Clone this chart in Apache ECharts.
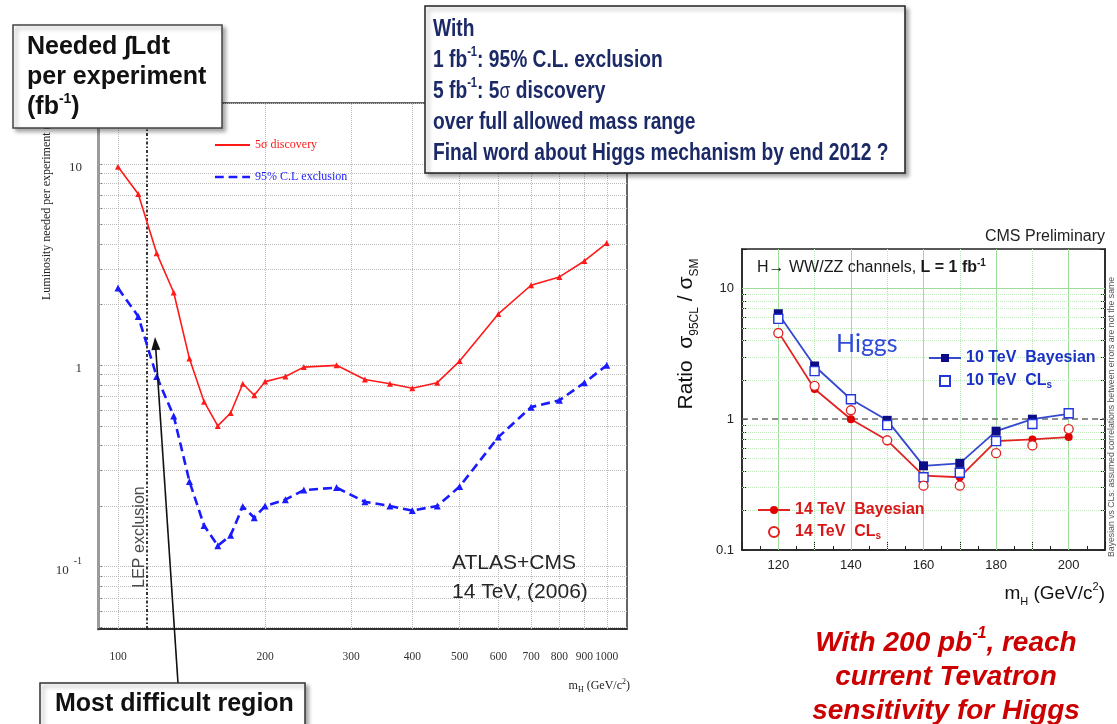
<!DOCTYPE html>
<html>
<head>
<meta charset="utf-8">
<title>Higgs search luminosity</title>
<script src="https://cdn.jsdelivr.net/npm/echarts@6/dist/echarts.min.js"></script>
<style>
  html, body { margin: 0; padding: 0; background: #fff; }
  #main { width: 1117px; height: 724px; }
</style>
</head>
<body>
<div id="main"></div>
<script>
// ---- ATLAS+CMS, 14 TeV (2006): luminosity needed per experiment vs m_H ----
const massLeft = [100, 110, 120, 130, 140, 150, 160, 170, 180, 190, 200, 220, 240, 280, 320, 360, 400, 450, 500, 600, 700, 800, 900, 1000];
const discovery5sigma = [9.7, 7.1, 3.6, 2.3, 1.08, 0.66, 0.50, 0.58, 0.81, 0.71, 0.83, 0.88, 0.98, 1.0, 0.85, 0.81, 0.77, 0.82, 1.05, 1.8, 2.5, 2.75, 3.3, 4.05];
const exclusion95 = [2.42, 1.75, 0.88, 0.56, 0.265, 0.16, 0.127, 0.143, 0.199, 0.175, 0.20, 0.215, 0.24, 0.247, 0.21, 0.20, 0.19, 0.20, 0.25, 0.44, 0.62, 0.67, 0.82, 1.0];
const leftXTicks = [100, 200, 300, 400, 500, 600, 700, 800, 900, 1000];
const leftYLabels = [0.1, 1, 10];
const lepLimit = 114.4;

// ---- CMS preliminary, H -> WW/ZZ, L = 1 fb-1: expected sigma_95CL / sigma_SM ----
const massRight = [120, 130, 140, 150, 160, 170, 180, 190, 200];
const tev10Bayesian = [6.4, 2.55, 1.42, 0.98, 0.44, 0.46, 0.81, 1.0, 1.1];
const tev10CLs = [5.85, 2.33, 1.42, 0.90, 0.36, 0.39, 0.68, 0.92, 1.11];
const tev14Bayesian = [4.65, 1.70, 1.0, 0.69, 0.37, 0.36, 0.68, 0.70, 0.73];
const tev14CLs = [4.55, 1.80, 1.17, 0.69, 0.31, 0.31, 0.55, 0.63, 0.84];
const rightXLabels = [120, 140, 160, 180, 200];
const rightXMajorGrid = [120, 140, 160, 180, 200];
const rightXMinorGrid = [130, 150, 170, 190];
const rightYLabels = [0.1, 1, 10];

const SANS = "'Liberation Sans', Arial, Helvetica, sans-serif";
const SERIF = "'Liberation Serif', 'Times New Roman', serif";
const NAVY = '#1b2a66';
const RED_L = '#ff1a1a', BLUE_L = '#1a1aff';
const RED_R = '#e02424';

// 1..9 x 10^k steps inside [lo, hi] (log grid positions)
function logSteps(lo, hi) {
  const out = [];
  for (let e = -3; e <= 3; e++) {
    for (let k = 1; k <= 9; k++) {
      const v = +(k * Math.pow(10, e)).toPrecision(3);
      if (v >= lo && v <= hi) out.push(v);
    }
  }
  return out;
}
const zip = (xs, ys) => xs.map((x, i) => [x, ys[i]]);
const near = (a, b) => Math.abs(a - b) < 1e-6 * Math.max(1, Math.abs(b));

const leftYMin = 0.049, leftYMax = 20.1;
const rightYMin = 0.1, rightYMax = 20;

const leftHGrid = logSteps(leftYMin, leftYMax);
const rightHGrid = logSteps(rightYMin, rightYMax).filter(v => !near(v, 0.1) && !near(v, 1) && !near(v, 10) && !near(v, 20));

const chart = echarts.init(document.getElementById('main'), null, { renderer: 'canvas' });

const noMark = { silent: true, symbol: ['none', 'none'], label: { show: false }, emphasis: { disabled: true }, animation: false };

// arrow pointing to the low-mass region
const arrowFrom = [178, 683], arrowTip = [155, 337];
const arrowHead = (function () {
  const dx = arrowTip[0] - arrowFrom[0], dy = arrowTip[1] - arrowFrom[1];
  const len = Math.hypot(dx, dy), ux = dx / len, uy = dy / len;
  const bx = arrowTip[0] - 13 * ux, by = arrowTip[1] - 13 * uy;
  const px = -uy * 4.5, py = ux * 4.5;
  return { base: [bx, by], pts: [arrowTip, [bx + px, by + py], [bx - px, by - py]] };
})();

const boxShadow = { shadowBlur: 4, shadowOffsetX: 3, shadowOffsetY: 3, shadowColor: 'rgba(0,0,0,0.35)' };

const option = {
  animation: false,
  textStyle: { fontFamily: SANS },
  grid: [
    { left: 98, top: 103, width: 529, height: 526, show: true, borderColor: '#333', borderWidth: 1.5, backgroundColor: 'transparent' },
    { left: 742, top: 249, width: 363, height: 301, show: true, borderColor: '#222', borderWidth: 1.5, backgroundColor: 'transparent' }
  ],
  xAxis: [
    {
      type: 'log', gridIndex: 0, logBase: 10, min: 91, max: 1100,
      axisLine: { lineStyle: { color: '#222', width: 1.5 } },
      axisTick: { show: false },
      splitLine: { show: false },
      axisLabel: {
        customValues: leftXTicks, hideOverlap: false, showMinLabel: true, showMaxLabel: true,
        margin: 22, fontFamily: SERIF, fontSize: 11.5, color: '#333',
        formatter: v => String(Math.round(v))
      }
    },
    {
      type: 'value', gridIndex: 1, min: 110, max: 210, interval: 10,
      axisLine: { lineStyle: { color: '#222', width: 1.5 } },
      axisTick: { inside: true, length: 8, lineStyle: { color: '#222' } },
      minorTick: { show: true, splitNumber: 2, length: 4, lineStyle: { color: '#222' } },
      splitLine: { show: false },
      axisLabel: { margin: 9, fontFamily: SANS, fontSize: 13, color: '#222', formatter: v => (rightXLabels.indexOf(v) >= 0 ? String(v) : '') }
    }
  ],
  yAxis: [
    {
      type: 'log', gridIndex: 0, logBase: 10, min: leftYMin, max: leftYMax,
      axisLine: { lineStyle: { color: '#9a9a9a', width: 3 } },
      axisTick: { show: true, inside: true, customValues: leftHGrid, length: 4, lineStyle: { color: '#777' } },
      splitLine: { show: false },
      axisLabel: {
        customValues: leftYLabels, margin: 16,
        formatter: v => (near(v, 0.1) ? '{b|10}{s|-1}' : '{b|' + Math.round(v) + '}'),
        rich: {
          b: { fontFamily: SERIF, fontSize: 13, color: '#333', lineHeight: 20, verticalAlign: 'bottom' },
          s: { fontFamily: SERIF, fontSize: 10, color: '#333', lineHeight: 10, verticalAlign: 'top', padding: [0, 0, 0, 5] }
        }
      }
    },
    {
      type: 'log', gridIndex: 1, logBase: 10, min: rightYMin, max: rightYMax,
      axisLine: { lineStyle: { color: '#222', width: 1.5 } },
      axisTick: { show: true, inside: true, customValues: logSteps(rightYMin, rightYMax), length: 5, lineStyle: { color: '#222' } },
      splitLine: { show: false },
      axisLabel: { customValues: rightYLabels, margin: 8, fontFamily: SANS, fontSize: 13, color: '#222', formatter: v => (near(v, 0.1) ? '0.1' : String(Math.round(v))) }
    },
    {
      type: 'log', gridIndex: 1, logBase: 10, min: rightYMin, max: rightYMax, position: 'right',
      axisLine: { lineStyle: { color: '#222', width: 1.5 } },
      axisTick: { show: true, inside: true, customValues: logSteps(rightYMin, rightYMax), length: 5, lineStyle: { color: '#222' } },
      splitLine: { show: false },
      axisLabel: { show: false }
    }
  ],
  legend: [
    {
      left: 215, top: 138, padding: 0, orient: 'vertical', itemGap: 18, itemWidth: 35, itemHeight: 2.5,
      selectedMode: false,
      itemStyle: { borderWidth: 0 },
      textStyle: { fontFamily: SERIF, fontSize: 12, lineHeight: 14 },
      data: [
        { name: '5σ discovery', icon: 'path://M0,0H36V2H0Z', textStyle: { color: RED_L } },
        { name: '95% C.L exclusion', icon: 'path://M0,0h9v2.5h-9z M14,0h9v2.5h-9z M28,0h8v2.5h-8z', textStyle: { color: BLUE_L } }
      ]
    },
    {
      left: 928, top: 349, padding: 0, orient: 'vertical', itemGap: 5, itemWidth: 32, itemHeight: 10,
      selectedMode: false,
      textStyle: {
        fontFamily: SANS, fontWeight: 'bold', fontSize: 16, lineHeight: 18, color: '#1a30c8',
        rich: { s: { fontFamily: SANS, fontWeight: 'bold', fontSize: 10, lineHeight: 10, color: '#1a30c8', verticalAlign: 'bottom' } }
      },
      formatter: n => n.replace(/CLs$/, 'CL{s|s}'),
      data: ['10 TeV  Bayesian', { name: '10 TeV  CLs', icon: 'path://M0,0h10v10h-10z' }]
    },
    {
      left: 757, top: 501, padding: 0, orient: 'vertical', itemGap: 4, itemWidth: 32, itemHeight: 10,
      selectedMode: false,
      textStyle: {
        fontFamily: SANS, fontWeight: 'bold', fontSize: 16, lineHeight: 18, color: '#d81818',
        rich: { s: { fontFamily: SANS, fontWeight: 'bold', fontSize: 10, lineHeight: 10, color: '#d81818', verticalAlign: 'bottom' } }
      },
      formatter: n => n.replace(/CLs$/, 'CL{s|s}'),
      data: ['14 TeV  Bayesian', '14 TeV  CLs']
    }
  ],
  series: [
    // left panel grid lines
    {
      name: 'leftGrid', type: 'line', xAxisIndex: 0, yAxisIndex: 0, data: [], silent: true,
      markLine: Object.assign({}, noMark, {
        z: 1,
        lineStyle: { color: '#bcbcbc', type: 'dotted', width: 1 },
        data: leftXTicks.map(v => ({ xAxis: v })).concat(leftHGrid.map(v => ({ yAxis: v })))
      })
    },
    // LEP exclusion boundary
    {
      name: 'LEP', type: 'line', xAxisIndex: 0, yAxisIndex: 0, data: [], silent: true,
      markLine: Object.assign({}, noMark, {
        z: 3,
        lineStyle: { color: '#222', type: [3, 2, 1.5, 2], width: 1.8 },
        data: [{ xAxis: lepLimit }]
      })
    },
    {
      name: '5σ discovery', type: 'line', xAxisIndex: 0, yAxisIndex: 0, z: 4,
      data: zip(massLeft, discovery5sigma),
      symbol: 'triangle', symbolSize: 6,
      lineStyle: { color: RED_L, width: 1.6 },
      itemStyle: { color: RED_L }
    },
    {
      name: '95% C.L exclusion', type: 'line', xAxisIndex: 0, yAxisIndex: 0, z: 4,
      data: zip(massLeft, exclusion95),
      symbol: 'triangle', symbolSize: 7,
      lineStyle: { color: BLUE_L, width: 2.6, type: [9, 5] },
      itemStyle: { color: BLUE_L }
    },
    // right panel grid lines and the ratio = 1 reference
    {
      name: 'rightGrid', type: 'line', xAxisIndex: 1, yAxisIndex: 1, data: [], silent: true,
      markLine: Object.assign({}, noMark, {
        z: 1,
        data: rightXMajorGrid.map(v => ({ xAxis: v, lineStyle: { color: '#9edc9a', type: 'solid', width: 1 } }))
          .concat(rightXMinorGrid.map(v => ({ xAxis: v, lineStyle: { color: '#b9e6b5', type: 'dotted', width: 1 } })))
          .concat(rightHGrid.map(v => ({ yAxis: v, lineStyle: { color: '#c2eabe', type: 'dotted', width: 1 } })))
          .concat([{ yAxis: 10, lineStyle: { color: '#9edc9a', type: 'solid', width: 1 } }])
      })
    },
    {
      name: 'unity', type: 'line', xAxisIndex: 1, yAxisIndex: 1, data: [], silent: true,
      markLine: Object.assign({}, noMark, {
        z: 2,
        lineStyle: { color: '#6a6a6a', type: [6, 4], width: 1.5 },
        data: [{ yAxis: 1 }]
      })
    },
    {
      name: '10 TeV  Bayesian', type: 'line', xAxisIndex: 1, yAxisIndex: 1, z: 4,
      data: zip(massRight, tev10Bayesian),
      symbol: 'rect', symbolSize: 9,
      lineStyle: { color: '#3548d0', width: 1.8 },
      itemStyle: { color: '#0c0c86' }
    },
    {
      name: '10 TeV  CLs', type: 'scatter', xAxisIndex: 1, yAxisIndex: 1, z: 5,
      data: zip(massRight, tev10CLs),
      symbol: 'rect', symbolSize: 9,
      itemStyle: { color: '#ffffff', borderColor: '#2236e0', borderWidth: 1.4, opacity: 1 }
    },
    {
      name: '14 TeV  Bayesian', type: 'line', xAxisIndex: 1, yAxisIndex: 1, z: 4,
      data: zip(massRight, tev14Bayesian),
      symbol: 'circle', symbolSize: 8,
      lineStyle: { color: RED_R, width: 1.8 },
      itemStyle: { color: '#e00000' }
    },
    {
      name: '14 TeV  CLs', type: 'scatter', xAxisIndex: 1, yAxisIndex: 1, z: 5,
      data: zip(massRight, tev14CLs),
      symbol: 'circle', symbolSize: 9,
      itemStyle: { color: '#ffffff', borderColor: '#e22020', borderWidth: 1.3, opacity: 1 }
    }
  ],
  graphic: [
    // left panel annotations
    {
      type: 'text', x: 47, y: 300, rotation: Math.PI / 2, z: 10,
      style: {
        text: '{t|Luminosity needed per experiment (fb}{u|-1}{t|)}', align: 'left', verticalAlign: 'middle',
        rich: {
          t: { fontFamily: SERIF, fontSize: 12, fill: '#222', lineHeight: 14, verticalAlign: 'middle' },
          u: { fontFamily: SERIF, fontSize: 8, fill: '#222', lineHeight: 8, verticalAlign: 'top' }
        }
      }
    },
    {
      type: 'text', x: 140, y: 537, rotation: Math.PI / 2, z: 10,
      style: { text: 'LEP exclusion', align: 'center', verticalAlign: 'middle', fontFamily: SANS, fontSize: 16, fill: '#4a4a4a' }
    },
    {
      type: 'text', x: 452, y: 549, z: 10,
      style: { text: 'ATLAS+CMS\n14 TeV, (2006)', align: 'left', verticalAlign: 'top', fontFamily: SANS, fontSize: 21, lineHeight: 29, fill: '#262626' }
    },
    {
      type: 'text', x: 630, y: 686, z: 10,
      style: {
        text: '{t|m}{d|H}{t| (GeV/c}{u|2}{t|)}', align: 'right', verticalAlign: 'middle',
        rich: {
          t: { fontFamily: SERIF, fontSize: 12, fill: '#222', lineHeight: 16, verticalAlign: 'middle' },
          d: { fontFamily: SERIF, fontSize: 8, fill: '#222', lineHeight: 8, verticalAlign: 'bottom' },
          u: { fontFamily: SERIF, fontSize: 8, fill: '#222', lineHeight: 8, verticalAlign: 'top' }
        }
      }
    },
    // arrow to the difficult low-mass region
    {
      type: 'line', z: 11, shape: { x1: arrowFrom[0], y1: arrowFrom[1], x2: arrowHead.base[0], y2: arrowHead.base[1] },
      style: { stroke: '#111', lineWidth: 1.6 }
    },
    {
      type: 'polygon', z: 11, shape: { points: arrowHead.pts }, style: { fill: '#111' }
    },
    // boxes
    {
      type: 'rect', z: 20, shape: { x: 13, y: 25, width: 209, height: 103 },
      style: Object.assign({ fill: '#fff', stroke: '#444', lineWidth: 1.5 }, boxShadow)
    },
    {
      type: 'text', x: 27, y: 32, z: 21,
      style: {
        text: '{t|Needed ∫Ldt}\n{t|per experiment}\n{t|(fb}{u|-1}{t|)}', align: 'left', verticalAlign: 'top',
        rich: {
          t: { fontFamily: SANS, fontWeight: 'bold', fontSize: 25, fill: '#111', lineHeight: 30, verticalAlign: 'middle' },
          u: { fontFamily: SANS, fontWeight: 'bold', fontSize: 14, fill: '#111', lineHeight: 14, verticalAlign: 'top' }
        }
      }
    },
    {
      type: 'rect', z: 20, shape: { x: 425, y: 6, width: 480, height: 167 },
      style: Object.assign({ fill: '#fff', stroke: '#222', lineWidth: 1.5 }, boxShadow)
    },
    {
      type: 'text', x: 433, y: 14, scaleX: 0.8, z: 21,
      style: {
        text: [
          '{t|With}',
          '{t|1 fb}{u|-1}{t|: 95% C.L. exclusion}',
          '{t|5 fb}{u|-1}{t|: 5}{g|σ}{t| discovery}',
          '{t|over full allowed mass range}',
          '{t|Final word about Higgs mechanism by end 2012 ?}'
        ].join('\n'),
        align: 'left', verticalAlign: 'top',
        rich: {
          t: { fontFamily: SANS, fontWeight: 'bold', fontSize: 24, fill: NAVY, lineHeight: 31, verticalAlign: 'middle' },
          u: { fontFamily: SANS, fontWeight: 'bold', fontSize: 14, fill: NAVY, lineHeight: 14, verticalAlign: 'top' },
          g: { fontFamily: SANS, fontWeight: 'normal', fontSize: 22, fill: NAVY, lineHeight: 31, verticalAlign: 'middle' }
        }
      }
    },
    {
      type: 'rect', z: 20, shape: { x: 40, y: 683, width: 265, height: 50 },
      style: Object.assign({ fill: '#fff', stroke: '#333', lineWidth: 1.5 }, boxShadow)
    },
    {
      type: 'text', x: 55, y: 704, z: 21,
      style: { text: 'Most difficult region', align: 'left', verticalAlign: 'middle', fontFamily: SANS, fontWeight: 'bold', fontSize: 25, fill: '#111' }
    },
    // right panel annotations
    {
      type: 'text', x: 1105, y: 237, z: 10,
      style: { text: 'CMS Preliminary', align: 'right', verticalAlign: 'middle', fontFamily: SANS, fontSize: 16, fill: '#222' }
    },
    {
      type: 'text', x: 757, y: 268, z: 10,
      style: {
        text: '{t|H→ WW/ZZ channels, }{b|L = 1 fb}{u|-1}', align: 'left', verticalAlign: 'middle',
        rich: {
          t: { fontFamily: SANS, fontSize: 16, fill: '#1a1a1a', lineHeight: 20, verticalAlign: 'middle' },
          b: { fontFamily: SANS, fontWeight: 'bold', fontSize: 16, fill: '#1a1a1a', lineHeight: 20, verticalAlign: 'middle' },
          u: { fontFamily: SANS, fontWeight: 'bold', fontSize: 10, fill: '#1a1a1a', lineHeight: 10, verticalAlign: 'top' }
        }
      }
    },
    {
      type: 'text', x: 836, y: 344, z: 10,
      style: { text: 'Higgs', align: 'left', verticalAlign: 'middle', fontFamily: "Lato, 'Open Sans', sans-serif", fontSize: 25, fill: '#2f4ad6' }
    },
    {
      type: 'text', x: 686, y: 334, rotation: Math.PI / 2, z: 10,
      style: {
        text: '{r|Ratio  σ}{s|95CL}{r| / σ}{s|SM}', align: 'center', verticalAlign: 'middle',
        rich: {
          r: { fontFamily: SANS, fontSize: 21, fill: '#111', lineHeight: 30, verticalAlign: 'middle' },
          s: { fontFamily: SANS, fontSize: 12, fill: '#111', lineHeight: 12, verticalAlign: 'bottom' }
        }
      }
    },
    {
      type: 'text', x: 1105, y: 594, z: 10,
      style: {
        text: '{t|m}{d|H}{t| (GeV/c}{u|2}{t|)}', align: 'right', verticalAlign: 'middle',
        rich: {
          t: { fontFamily: SANS, fontSize: 19, fill: '#111', lineHeight: 26, verticalAlign: 'middle' },
          d: { fontFamily: SANS, fontSize: 11, fill: '#111', lineHeight: 11, verticalAlign: 'bottom' },
          u: { fontFamily: SANS, fontSize: 11, fill: '#111', lineHeight: 11, verticalAlign: 'top' }
        }
      }
    },
    {
      type: 'text', x: 1112, y: 557, rotation: Math.PI / 2, z: 10,
      style: { text: 'Bayesian vs CLs: assumed correlations between errors are not the same', align: 'left', verticalAlign: 'middle', fontFamily: SANS, fontSize: 8.7, fill: '#555' }
    },
    {
      type: 'text', x: 946, y: 626, z: 10,
      style: {
        text: '{t|With 200 pb}{u|-1}{t|, reach}\n{t|current Tevatron}\n{t|sensitivity for Higgs}', align: 'center', verticalAlign: 'top',
        rich: {
          t: { fontFamily: SANS, fontWeight: 'bold', fontStyle: 'italic', fontSize: 28, fill: '#cc0000', lineHeight: 34, verticalAlign: 'middle' },
          u: { fontFamily: SANS, fontWeight: 'bold', fontStyle: 'italic', fontSize: 16, fill: '#cc0000', lineHeight: 16, verticalAlign: 'top' }
        }
      }
    }
  ]
};

chart.setOption(option);
</script>
</body>
</html>
